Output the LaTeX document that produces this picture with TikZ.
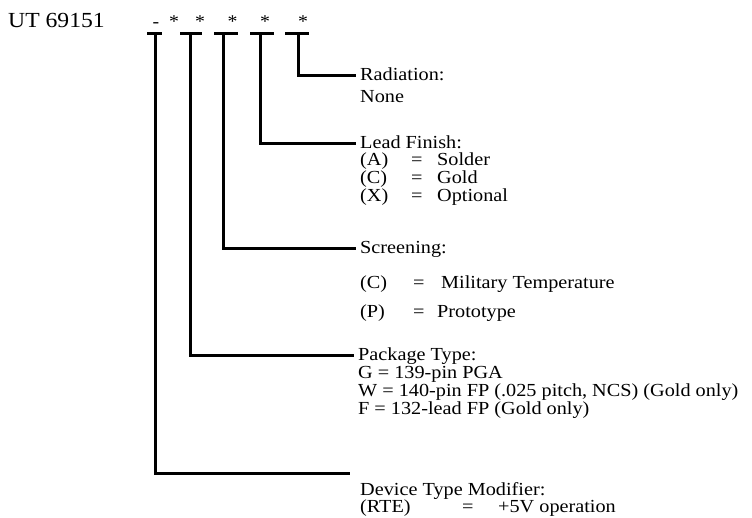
\documentclass[tikz,border=0pt]{standalone}
\usepackage{fontspec}
\setmainfont{Liberation Serif}[FakeStretch=1.1]
\newcommand{\optline}[4]{\makebox[#1][l]{#2}\makebox[#3][l]{=}#4}
\begin{document}
\begin{tikzpicture}[x=1pt,y=-1pt,
    txt/.style={anchor=base west,inner sep=0pt,font=\fontsize{18.4}{18}\selectfont},
    head/.style={txt,inner xsep=4pt,text height=12pt,text depth=2pt},
    sym/.style={anchor=base,inner sep=0pt,font=\fontsize{18}{18}\selectfont},
    link/.style={line width=3pt}]
  \useasboundingbox (0,0) rectangle (752,517);
  \node[anchor=base west,inner sep=0pt,font=\fontsize{21.5}{24}\selectfont] (part) at (8,27) {UT 69151};
  \node[sym] (dash) at (156,27) {-};
  \node[sym] (f1) at (174,27) {*};
  \node[sym] (f2) at (200,27) {*};
  \node[sym] (f3) at (232.5,27) {*};
  \node[sym] (f4) at (265,27) {*};
  \node[sym] (f5) at (303,27) {*};
  % selector bars under the code
  \coordinate (s1) at (155,33);
  \coordinate (s2) at (190,33);
  \coordinate (s3) at (223,33);
  \coordinate (s4) at (260,33);
  \coordinate (s5) at (298,33);
  \draw[link] ([xshift=-8pt]s1) -- ([xshift=7pt]s1);
  \draw[link] ([xshift=-10pt]s2) -- ([xshift=12pt]s2);
  \draw[link] ([xshift=-9pt]s3) -- ([xshift=15pt]s3);
  \draw[link] ([xshift=-10pt]s4) -- ([xshift=14pt]s4);
  \draw[link] ([xshift=-13pt]s5) -- ([xshift=11pt]s5);
  % radiation
  \node[head] (rad) at (356,80) {Radiation:};
  \node[txt] (radnone) at (360,102) {None};
  \draw[link] (s5) |- (rad.west);
  % lead finish
  \node[head] (lead) at (356,148) {Lead Finish:};
  \node[txt] (leadA) at (360,165) {\optline{51pt}{(A)}{26pt}{Solder}};
  \node[txt] (leadC) at (360,183) {\optline{51pt}{(C)}{26pt}{Gold}};
  \node[txt] (leadX) at (360,201) {\optline{51pt}{(X)}{26pt}{Optional}};
  \draw[link] (s4) |- (lead.west);
  % screening
  \node[head] (scr) at (356,253) {Screening:};
  \node[txt] (scrC) at (360,288) {\optline{53pt}{(C)}{28pt}{Military Temperature}};
  \node[txt] (scrP) at (360,317) {\optline{53pt}{(P)}{24pt}{Prototype}};
  \draw[link] (s3) |- (scr.west);
  % package type
  \node[head] (pkg) at (354,360) {Package Type:};
  \node[txt] (pkgG) at (358,378) {G = 139-pin PGA};
  \node[txt] (pkgW) at (358,396) {W = 140-pin FP (.025 pitch, NCS) (Gold only)};
  \node[txt] (pkgF) at (358,414) {F = 132-lead FP (Gold only)};
  \draw[link] (s2) |- (pkg.west);
  % device type modifier
  \coordinate (devend) at (350,473);
  \node[txt] (dev) at (360,495) {Device Type Modifier:};
  \node[txt] (devRTE) at (360,512) {\optline{102pt}{(RTE)}{36pt}{+5V operation}};
  \draw[link] (s1) |- (devend);
\end{tikzpicture}
\end{document}
